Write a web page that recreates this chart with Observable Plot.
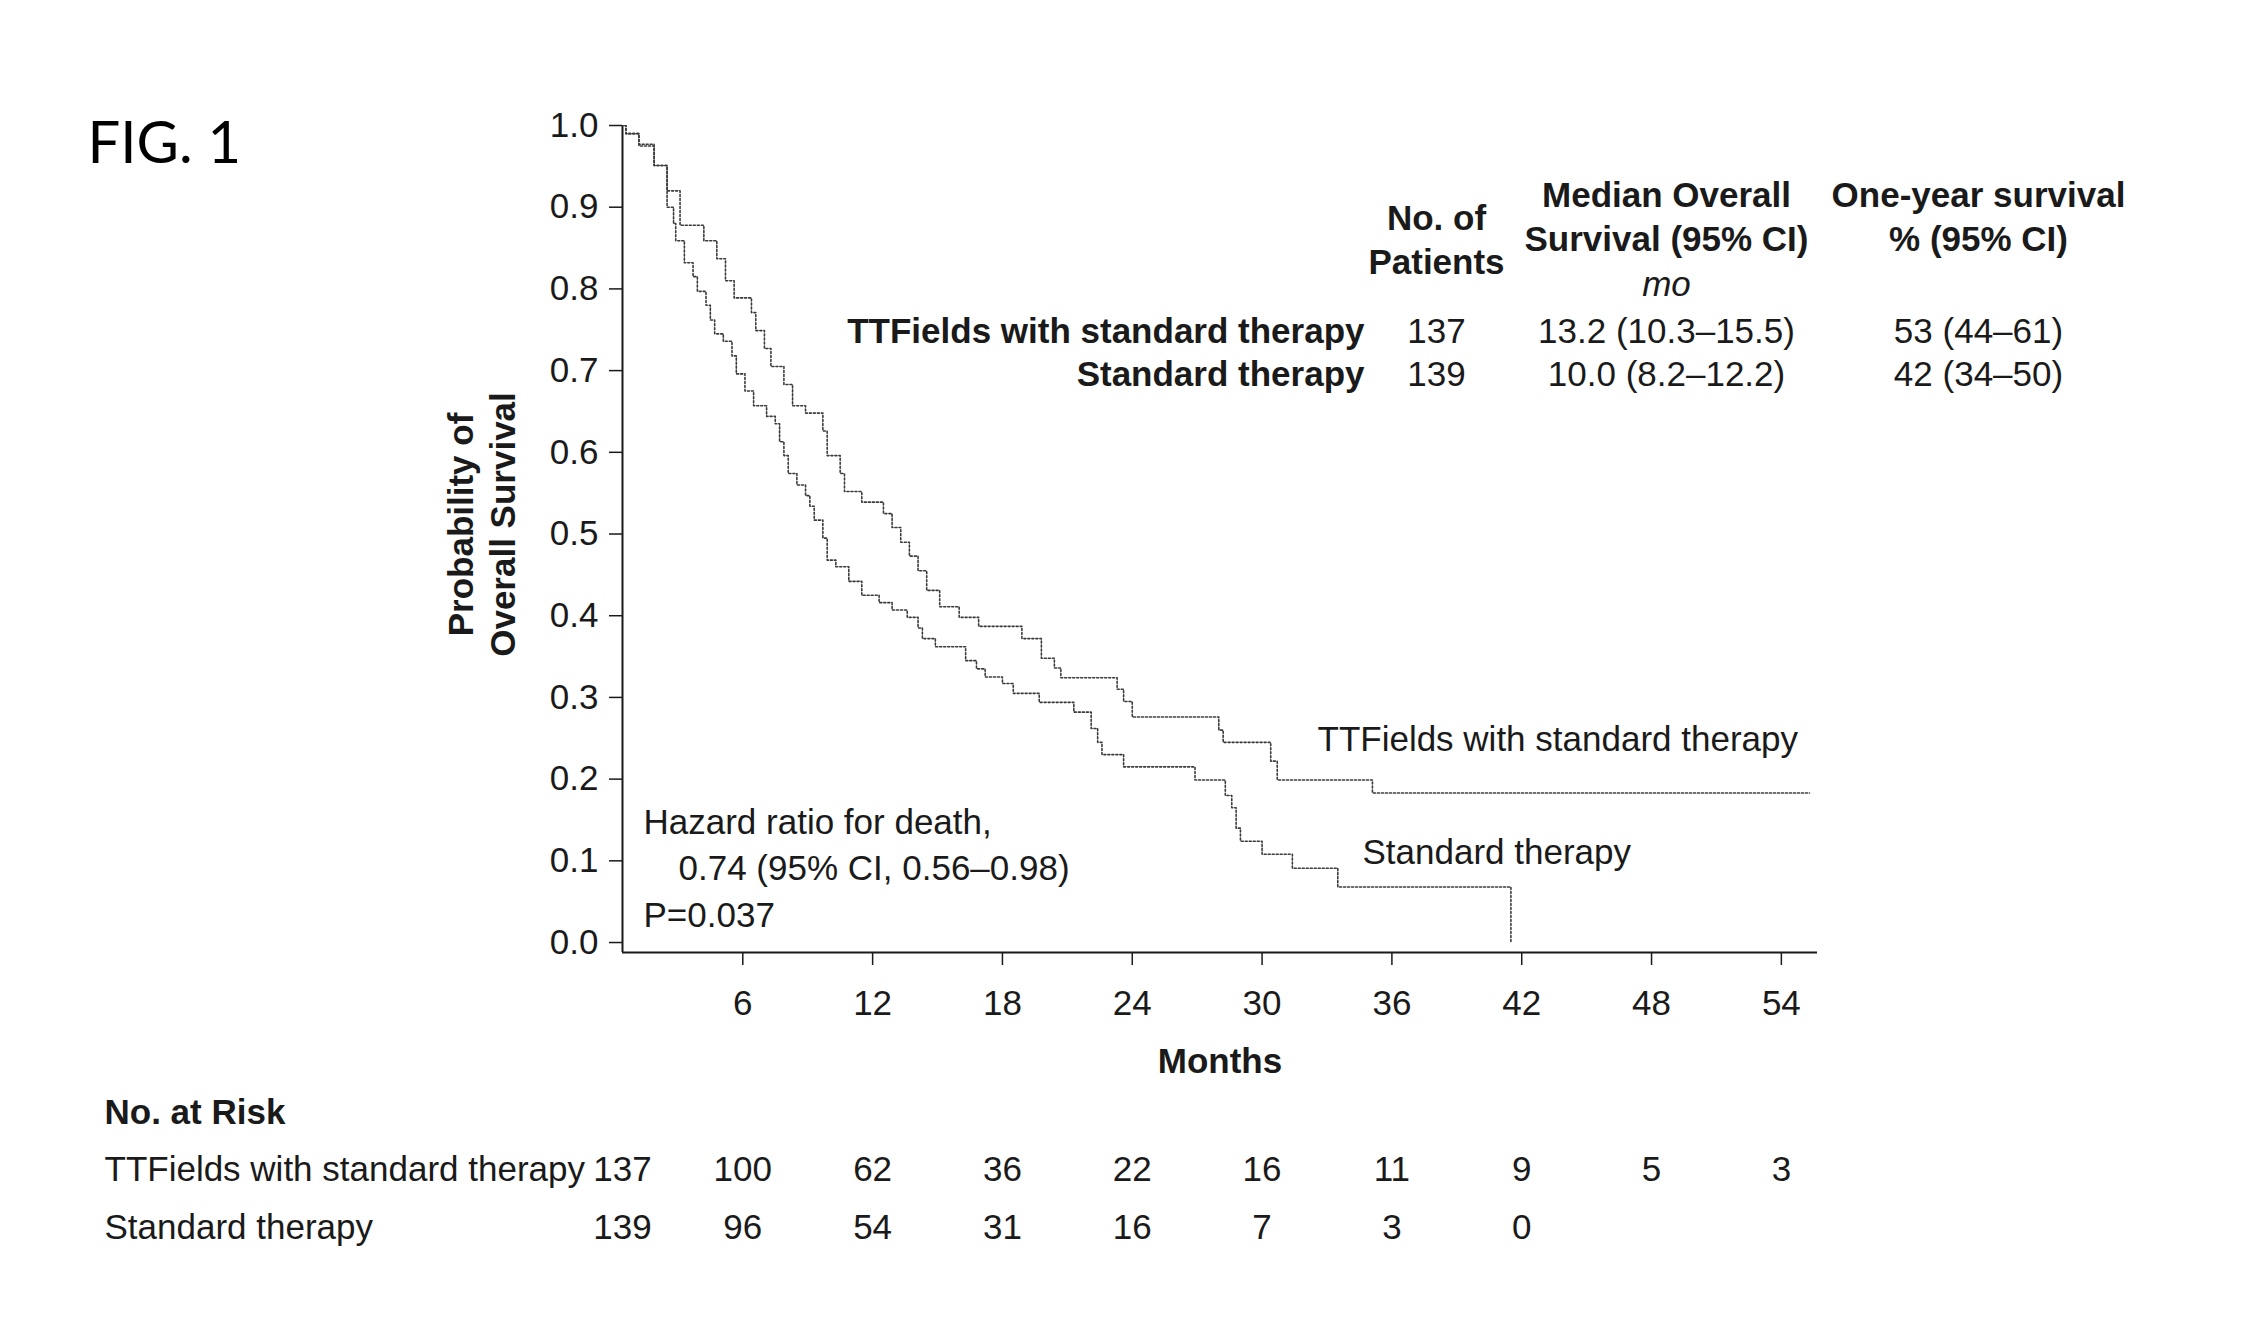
<!DOCTYPE html>
<html>
<head>
<meta charset="utf-8">
<script src="https://cdn.jsdelivr.net/npm/d3@7"></script>
<script src="https://cdn.jsdelivr.net/npm/@observablehq/plot@0.6"></script>
<style>
  html, body { margin: 0; padding: 0; background: #fff; }
  svg { display: block; }
</style>
</head>
<body>
<script>
// Kaplan–Meier estimates of overall survival: time in months, survival probability.
const ttfMonths = [0, 0.6, 1.2, 1.9, 2.5, 3.1, 4.2, 4.8, 5.2, 5.6, 6.4, 6.6, 7.0, 7.3, 7.9, 8.3, 8.9, 9.7, 9.9, 10.5,
  10.7, 11.5, 12.5, 12.9, 13.3, 13.7, 14.1, 14.5, 15.1, 16.0, 16.9, 18.9, 19.8, 20.4, 20.7, 23.3, 23.6, 24.0, 28.0,
  28.2, 30.4, 30.7, 35.1, 55.3];
const ttfSurvival = [1.0, 0.99, 0.977, 0.951, 0.92, 0.878, 0.859, 0.837, 0.81, 0.789, 0.771, 0.749, 0.727, 0.705, 0.683,
  0.657, 0.648, 0.626, 0.596, 0.574, 0.552, 0.539, 0.525, 0.508, 0.49, 0.473, 0.455, 0.431, 0.411, 0.398, 0.387,
  0.372, 0.348, 0.336, 0.324, 0.31, 0.295, 0.276, 0.26, 0.245, 0.222, 0.199, 0.183, 0.183];

const stdMonths = [0, 0.6, 1.2, 1.9, 2.5, 2.8, 2.9, 3.3, 3.7, 3.9, 4.3, 4.5, 4.7, 5.1, 5.5, 5.7, 6.1, 6.5, 7.1, 7.5,
  7.7, 7.9, 8.1, 8.5, 8.9, 9.1, 9.3, 9.7, 9.9, 10.3, 10.9, 11.5, 12.3, 12.9, 13.6, 14.1, 14.3, 14.9, 16.3, 16.8, 17.2,
  18.0, 18.5, 19.7, 21.3, 22.1, 22.4, 22.6, 23.6, 26.9, 28.3, 28.6, 28.8, 29.0, 30.0, 31.4, 33.5, 41.5];
const stdSurvival = [1.0, 0.99, 0.975, 0.951, 0.9, 0.88, 0.859, 0.832, 0.815, 0.797, 0.78, 0.762, 0.745, 0.736, 0.718,
  0.696, 0.675, 0.657, 0.644, 0.635, 0.613, 0.596, 0.574, 0.56, 0.547, 0.534, 0.517, 0.495, 0.468, 0.46, 0.442, 0.425,
  0.416, 0.407, 0.398, 0.385, 0.372, 0.362, 0.345, 0.335, 0.325, 0.317, 0.305, 0.294, 0.282, 0.262, 0.245, 0.23, 0.215,
  0.199, 0.18, 0.165, 0.14, 0.124, 0.108, 0.091, 0.068, 0.0];

// Summary table
const groups = ["TTFields with standard therapy", "Standard therapy"];
const patients = [137, 139];
const medianOS = ["13.2 (10.3–15.5)", "10.0 (8.2–12.2)"];
const oneYearSurvival = ["53 (44–61)", "42 (34–50)"];

// Numbers at risk
const riskMonths = [0, 6, 12, 18, 24, 30, 36, 42, 48, 54];
const riskTTF = [137, 100, 62, 36, 22, 16, 11, 9, 5, 3];
const riskStd = [139, 96, 54, 31, 16, 7, 3, 0];

// Axis ticks
const xTicks = [6, 12, 18, 24, 30, 36, 42, 48, 54];
const yTicks = [0, 0.1, 0.2, 0.3, 0.4, 0.5, 0.6, 0.7, 0.8, 0.9, 1.0];

const hazardLines = ["Hazard ratio for death,", "0.74 (95% CI, 0.56–0.98)", "P=0.037"];

// ---- layout ----
const W = 2257, H = 1335;
const ML = 622, MR = 440, MT = 125, MB = 383;
const FS = 35;
const xMin = 0.44, xMax = 55.67;
const yMin = -0.0122;
const ink = "#1a1a1a";
const mid = (baseline, size = FS) => baseline - 0.32 * size;

const km = [
  ...ttfMonths.map((m, i) => ({group: groups[0], month: m, s: ttfSurvival[i]})),
  ...stdMonths.map((m, i) => ({group: groups[1], month: m, s: stdSurvival[i]}))
];

// Free-standing text placed relative to the frame's top-left corner (pixel layout).
function note(str, px, baseline, opts = {}) {
  const size = opts.fontSize ?? FS;
  return Plot.text([str], {
    text: d => d,
    frameAnchor: "top-left",
    dx: px - ML,
    dy: mid(baseline, size) - MT,
    lineAnchor: "middle",
    textAnchor: "middle",
    fill: ink,
    fontSize: size,
    ...opts
  });
}

const marks = [];

// Figure number
marks.push(note("FIG. 1", 87, 162, {textAnchor: "start", fontFamily: "Lato, 'Open Sans', sans-serif", fontSize: 58, fill: "#000"}));

// Axes
marks.push(Plot.ruleX([xMin], {stroke: ink, strokeWidth: 2}));
marks.push(Plot.ruleY([yMin], {stroke: ink, strokeWidth: 2}));
marks.push(Plot.axisX({ticks: xTicks, tickSize: 13, tickPadding: 25, fontSize: FS, label: null, stroke: ink, strokeWidth: 1.5, fill: ink}));
marks.push(Plot.axisY({ticks: yTicks, tickFormat: ".1f", tickSize: 13, tickPadding: 11, fontSize: FS, label: null, stroke: ink, strokeWidth: 1.5, fill: ink}));

// Axis titles
marks.push(Plot.text(["Months"], {
  text: d => d, frameAnchor: "bottom", dy: mid(1072) - (H - MB),
  lineAnchor: "middle", textAnchor: "middle",
  fontWeight: "bold", fontSize: FS, fill: ink
}));
marks.push(Plot.text(["Probability of\nOverall Survival"], {
  text: d => d, frameAnchor: "left", rotate: -90, lineHeight: 1.2,
  lineAnchor: "middle", textAnchor: "middle",
  dx: 480 - ML, dy: 524 - (MT + (H - MB)) / 2,
  fontWeight: "bold", fontSize: FS, fill: ink
}));

// Survival curves
marks.push(Plot.line(km, {
  x: "month", y: "s", z: "group", curve: "step-after",
  stroke: "#3a3a3a", strokeWidth: 1.6, strokeDasharray: "2,2", clip: true
}));

// Curve labels
marks.push(note(groups[0], 1317, 750, {textAnchor: "start"}));
marks.push(note(groups[1], 1362, 863, {textAnchor: "start"}));

// Hazard ratio annotation
marks.push(note(hazardLines[0], 643, 833, {textAnchor: "start"}));
marks.push(note(hazardLines[1], 678, 879, {textAnchor: "start"}));
marks.push(note(hazardLines[2], 643, 926, {textAnchor: "start"}));

// Summary table header
const colPatients = 1436, colMedian = 1666, colOneYear = 1978, colLabelRight = 1364;
marks.push(note("No. of", colPatients, 229, {fontWeight: "bold"}));
marks.push(note("Patients", colPatients, 273, {fontWeight: "bold"}));
marks.push(note("Median Overall", colMedian, 206, {fontWeight: "bold"}));
marks.push(note("Survival (95% CI)", colMedian, 250, {fontWeight: "bold"}));
marks.push(note("mo", colMedian, 295, {fontStyle: "italic"}));
marks.push(note("One-year survival", colOneYear, 206, {fontWeight: "bold"}));
marks.push(note("% (95% CI)", colOneYear, 250, {fontWeight: "bold"}));

// Summary table rows
const rowBaselines = [342, 385];
groups.forEach((g, i) => {
  const b = rowBaselines[i];
  marks.push(note(g, colLabelRight, b, {textAnchor: "end", fontWeight: "bold"}));
  marks.push(note(String(patients[i]), colPatients, b));
  marks.push(note(medianOS[i], colMedian, b));
  marks.push(note(oneYearSurvival[i], colOneYear, b));
});

// Numbers at risk (the month-0 count sits on the vertical axis)
const riskLabelX = 104;
marks.push(note("No. at Risk", riskLabelX, 1123, {textAnchor: "start", fontWeight: "bold"}));
[[groups[0], riskTTF, 1180], [groups[1], riskStd, 1238]].forEach(([g, counts, b]) => {
  marks.push(note(g, riskLabelX, b, {textAnchor: "start"}));
  marks.push(Plot.text(counts, {
    x: (d, i) => Math.max(riskMonths[i], xMin), text: d => String(d),
    frameAnchor: "bottom", dy: mid(b) - (H - MB),
    lineAnchor: "middle", textAnchor: "middle", fontSize: FS, fill: ink
  }));
});

const chart = Plot.plot({
  width: W, height: H,
  marginLeft: ML, marginRight: MR, marginTop: MT, marginBottom: MB,
  style: {fontFamily: "'Liberation Sans', Arial, sans-serif", fontSize: FS + "px", background: "#fff", color: ink},
  x: {domain: [xMin, xMax]},
  y: {domain: [yMin, 1.0]},
  marks
});
document.body.appendChild(chart);
</script>
</body>
</html>
